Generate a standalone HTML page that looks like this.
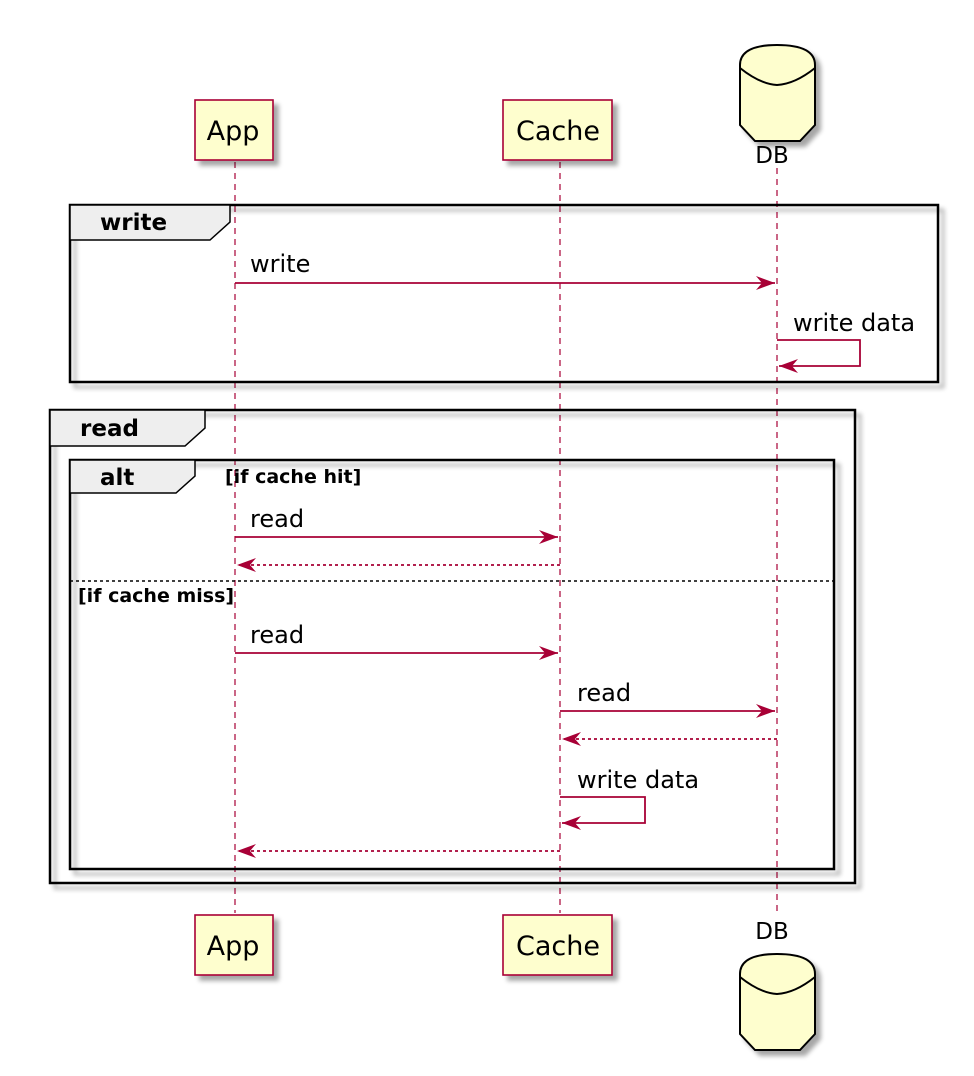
<!DOCTYPE html>
<html><head><meta charset="utf-8"><style>
html,body{margin:0;padding:0;background:#fff;}
svg{display:block;}
text{font-family:"DejaVu Sans","Liberation Sans",sans-serif;}
</style></head><body>
<svg width="974" height="1076" viewBox="0 0 974 1076" xmlns="http://www.w3.org/2000/svg">
<defs>
<marker id="ah" markerWidth="20" markerHeight="16" refX="19" refY="8" orient="auto" markerUnits="userSpaceOnUse">
<path d="M0,1 L19,8 L0,15 L6,8 Z" fill="#A80036"/>
</marker>
<filter id="sh" x="-10%" y="-10%" width="130%" height="130%"><feGaussianBlur in="SourceAlpha" stdDeviation="2.5"/><feOffset dx="5" dy="5"/><feComponentTransfer><feFuncA type="linear" slope="0.35"/></feComponentTransfer><feMerge><feMergeNode/><feMergeNode in="SourceGraphic"/></feMerge></filter>
</defs>

<g stroke="#A80036" stroke-width="1.2" stroke-dasharray="6,5" fill="none">
<line x1="235" y1="162" x2="235" y2="913"/>
<line x1="560" y1="162" x2="560" y2="913"/>
<line x1="777" y1="168" x2="777" y2="915"/>
</g>

<rect x="70" y="205" width="868" height="177" fill="none" stroke="#000" stroke-width="2.5" filter="url(#sh)"/>
<path d="M70,205 L230,205 L230,222 L210,240 L70,240 Z" fill="#EEEEEE" stroke="#000" stroke-width="1.5"/>
<text x="100" y="230" font-size="23" font-weight="bold">write</text>

<rect x="50" y="410" width="805" height="473" fill="none" stroke="#000" stroke-width="2.5" filter="url(#sh)"/>
<path d="M50,410 L205,410 L205,428 L185,446 L50,446 Z" fill="#EEEEEE" stroke="#000" stroke-width="1.5"/>
<text x="80" y="436" font-size="23" font-weight="bold">read</text>

<rect x="70" y="460" width="764" height="409" fill="none" stroke="#000" stroke-width="2.5" filter="url(#sh)"/>
<path d="M70,460 L195,460 L195,476 L176,493 L70,493 Z" fill="#EEEEEE" stroke="#000" stroke-width="1.5"/>
<text x="100" y="485" font-size="23" font-weight="bold">alt</text>
<text x="225" y="483" font-size="19" font-weight="bold">[if cache hit]</text>
<line x1="70" y1="581" x2="834" y2="581" stroke="#000" stroke-width="1.5" stroke-dasharray="3,3"/>
<text x="78" y="602" font-size="19" font-weight="bold">[if cache miss]</text>

<g stroke="#A80036" stroke-width="1.8" fill="none">
<line x1="235" y1="283" x2="775" y2="283" marker-end="url(#ah)"/>
<polyline points="777,340 860,340 860,366 779,366" marker-end="url(#ah)"/>
<line x1="235" y1="537" x2="558" y2="537" marker-end="url(#ah)"/>
<line x1="560" y1="565" x2="237" y2="565" stroke-dasharray="3,3" marker-end="url(#ah)"/>
<line x1="235" y1="653" x2="558" y2="653" marker-end="url(#ah)"/>
<line x1="560" y1="711" x2="775" y2="711" marker-end="url(#ah)"/>
<line x1="777" y1="739" x2="562" y2="739" stroke-dasharray="3,3" marker-end="url(#ah)"/>
<polyline points="560,797 645,797 645,823 562,823" marker-end="url(#ah)"/>
<line x1="560" y1="851" x2="237" y2="851" stroke-dasharray="3,3" marker-end="url(#ah)"/>
</g>
<g font-size="24" fill="#000">
<text x="250" y="272">write</text>
<text x="793" y="331">write data</text>
<text x="250" y="527">read</text>
<text x="250" y="643">read</text>
<text x="577" y="701">read</text>
<text x="577" y="788">write data</text>
</g>

<g fill="#FEFECE" stroke="#A80036" stroke-width="1.6" filter="url(#sh)">
<rect x="195" y="100" width="78" height="60"/>
<rect x="503" y="100" width="109" height="60"/>
<rect x="195" y="915" width="78" height="60"/>
<rect x="503" y="915" width="109" height="60"/>
</g>
<g font-size="27" fill="#000" text-anchor="middle">
<text x="233" y="140">App</text>
<text x="558" y="140">Cache</text>
<text x="233" y="955">App</text>
<text x="558" y="955">Cache</text>
</g>

<g fill="#FEFECE" stroke="#000" stroke-width="2" filter="url(#sh)">
<path d="M740,65 Q740,45 777,45 Q815,45 815,65 L815,125 L800,141 L755,141 L740,125 Z"/>
<path d="M740,974 Q740,954 777,954 Q815,954 815,974 L815,1034 L800,1050 L755,1050 L740,1034 Z"/>
</g>
<g fill="none" stroke="#000" stroke-width="2">
<path d="M740,68 Q760,84 777,85 Q795,84 815,68"/>
<path d="M740,977 Q760,993 777,994 Q795,993 815,977"/>
</g>
<g font-size="23" fill="#000" text-anchor="middle">
<text x="772" y="163">DB</text>
<text x="772" y="939">DB</text>
</g>
</svg>
</body></html>
